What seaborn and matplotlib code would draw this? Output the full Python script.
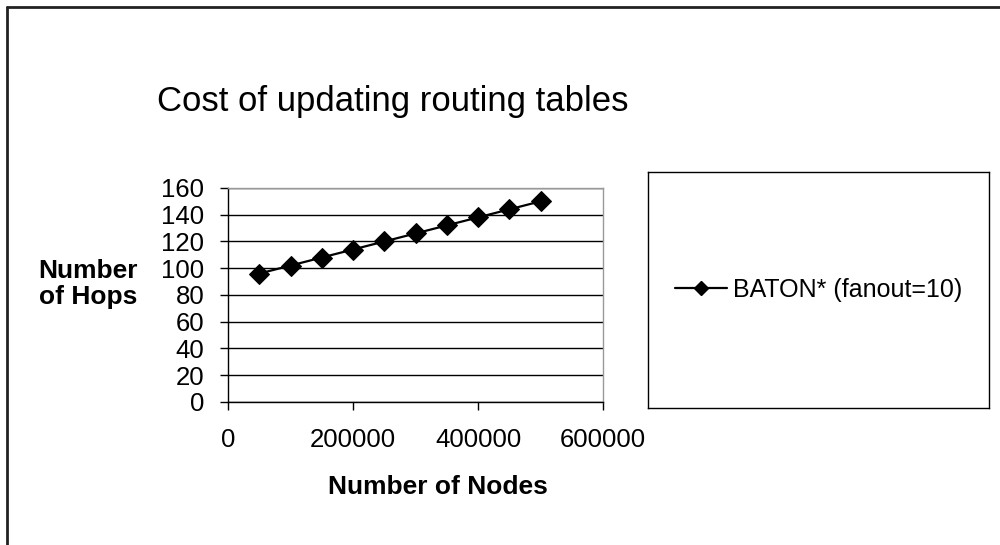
import matplotlib
matplotlib.use("Agg")
import matplotlib.pyplot as plt
import seaborn as sns
import pandas as pd
from matplotlib.lines import Line2D

# data
nodes = [50000, 100000, 150000, 200000, 250000, 300000, 350000, 400000, 450000, 500000]
hops = [96, 102, 108, 114, 120, 126, 132, 138, 144, 150]
series_name = 'BATON* (fanout=10)'

df = pd.DataFrame({'Nodes': nodes, 'Hops': hops, 'Series': series_name})

sns.set_style('white')
plt.rcParams['font.family'] = ['Liberation Sans', 'DejaVu Sans']
plt.rcParams['text.color'] = 'black'
plt.rcParams['xtick.color'] = 'black'
plt.rcParams['ytick.color'] = 'black'

fig = plt.figure(figsize=(10, 5.45), dpi=100)
ax = fig.add_axes([0.228, 0.2624, 0.375, 0.3927])

sns.lineplot(data=df, x='Nodes', y='Hops', hue='Series', palette=['black'],
             marker='D', markersize=10, markeredgecolor='black', linewidth=1.6, ax=ax)

ax.set_xlim(0, 600000)
ax.set_ylim(0, 160)
ax.set_xticks([0, 200000, 400000, 600000])
ax.set_yticks(range(0, 161, 20))
ax.yaxis.grid(True, color='black', linewidth=1)
ax.set_axisbelow(True)
ax.tick_params(axis='both', labelsize=18.5, length=6, width=1, color='black',
               direction='out', left=True, bottom=True)
ax.tick_params(axis='x', pad=13)
ax.tick_params(axis='y', pad=11)
for s in ['left', 'bottom']:
    ax.spines[s].set_color('black')
    ax.spines[s].set_linewidth(1)
for s in ['top', 'right']:
    ax.spines[s].set_color('#999999')
    ax.spines[s].set_linewidth(1)

ax.set_xlabel('')
ax.set_ylabel('')
fig.text(0.157, 1 - 102 / 545, 'Cost of updating routing tables', fontsize=25,
         va='center', ha='left')
fig.text(0.088, 1 - 284 / 545, 'Number\nof Hops', fontsize=19, fontweight='bold',
         ha='center', va='center', linespacing=1.12)
fig.text(0.438, 1 - 487 / 545, 'Number of Nodes', fontsize=19, fontweight='bold',
         ha='center', va='center')

# legend box
ax.get_legend().remove()
lax = fig.add_axes([0.648, (545 - 408) / 545, 0.341, 236 / 545])
lax.set_xticks([])
lax.set_yticks([])
for s in lax.spines.values():
    s.set_color('black')
    s.set_linewidth(1)
h = Line2D([], [], color='black', marker='D', markersize=7, linewidth=1.6)
lax.legend([h], [series_name], loc='center', frameon=False, fontsize=18,
           handlelength=2.1, handletextpad=0.25)

# outer frame (top and left only)
fig.add_artist(Line2D([0.007, 1.0], [1 - 7 / 545, 1 - 7 / 545], color='#222222',
                      linewidth=2, transform=fig.transFigure))
fig.add_artist(Line2D([0.007, 0.007], [0, 1 - 7 / 545], color='#222222',
                      linewidth=2, transform=fig.transFigure))

fig.savefig('out.png', dpi=100)
